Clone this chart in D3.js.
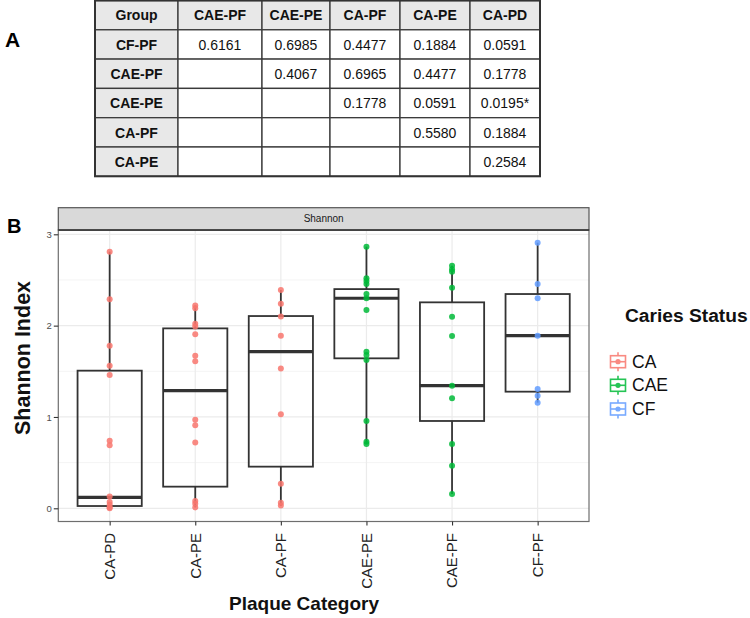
<!DOCTYPE html>
<html>
<head>
<meta charset="utf-8">
<script src="https://cdn.jsdelivr.net/npm/d3@7"></script>
<style>
  html, body { margin: 0; padding: 0; background: #fff; }
  svg { display: block; font-family: "Liberation Sans", Arial, Helvetica, sans-serif; }
</style>
</head>
<body>
<svg id="chart" width="750" height="618"></svg>
<script>
// ---------- Panel A: table data ----------
const tableHeader = ["Group", "CAE-PF", "CAE-PE", "CA-PF", "CA-PE", "CA-PD"];
const tableRows = ["CF-PF", "CAE-PF", "CAE-PE", "CA-PF", "CA-PE"];
const tableValues = [
  ["0.6161", "0.6985", "0.4477", "0.1884", "0.0591"],
  ["", "0.4067", "0.6965", "0.4477", "0.1778"],
  ["", "", "0.1778", "0.0591", "0.0195*"],
  ["", "", "", "0.5580", "0.1884"],
  ["", "", "", "", "0.2584"]
];

// ---------- Panel B: boxplot data ----------
const categories = ["CA-PD", "CA-PE", "CA-PF", "CAE-PE", "CAE-PF", "CF-PF"];
const cariesStatus = ["CA", "CA", "CA", "CAE", "CAE", "CF"];
const statusLevels = ["CA", "CAE", "CF"];
const statusColors = ["#F8766D", "#00BA38", "#619CFF"];
const whiskerLow  = [0.00, 0.01, 0.025, 0.704, 0.157, 1.157];
const q1          = [0.025, 0.237, 0.456, 1.642, 0.956, 1.277];
const medians     = [0.12, 1.288, 1.715, 2.30, 1.343, 1.89];
const q3          = [1.507, 1.97, 2.105, 2.40, 2.255, 2.346];
const whiskerHigh = [2.81, 2.22, 2.39, 2.864, 2.657, 2.908];
const pointsCAPD  = [2.81, 2.29, 1.78, 1.56, 1.46, 0.74, 0.69, 0.13, 0.07, 0.04, 0.01, 0.0];
const pointsCAPE  = [2.22, 2.19, 2.02, 1.99, 1.905, 1.67, 1.61, 0.97, 0.91, 0.72, 0.08, 0.05, 0.01];
const pointsCAPF  = [2.39, 2.24, 2.10, 1.89, 1.53, 1.03, 0.27, 0.06, 0.03];
const pointsCAEPE = [2.864, 2.518, 2.489, 2.456, 2.346, 2.299, 2.171, 1.715, 1.679, 1.624, 0.956, 0.729, 0.704];
const pointsCAEPF = [2.657, 2.617, 2.591, 2.416, 2.098, 1.887, 1.343, 1.204, 0.704, 0.466, 0.157];
const pointsCFPF  = [2.908, 2.456, 2.299, 1.89, 1.306, 1.233, 1.157];
const yTicks = [0, 1, 2, 3];
const yMinor = [0.5, 1.5, 2.5];

const svg = d3.select("#chart");

// ================= Panel A =================
const colEdges = [95, 178, 262, 330, 400, 470, 540];
const tTop = 0.5, rowH = 29.3;
const nRows = tableRows.length + 1;
const gA = svg.append("g");
gA.append("text").attr("x", 5).attr("y", 47).attr("font-size", 21).attr("font-weight", "bold").text("A");

for (let r = 0; r < nRows; r++) {
  for (let c = 0; c < tableHeader.length; c++) {
    const shaded = (r === 0 || c === 0);
    gA.append("rect")
      .attr("x", colEdges[c]).attr("y", tTop + r * rowH)
      .attr("width", colEdges[c + 1] - colEdges[c]).attr("height", rowH)
      .attr("fill", shaded ? "#e8e8e8" : "#ffffff")
      .attr("stroke", "#3a3a3a").attr("stroke-width", 1.3);
    let txt, bold = false;
    if (r === 0) { txt = tableHeader[c]; bold = true; }
    else if (c === 0) { txt = tableRows[r - 1]; bold = true; }
    else txt = tableValues[r - 1][c - 1];
    if (txt) {
      gA.append("text")
        .attr("x", (colEdges[c] + colEdges[c + 1]) / 2)
        .attr("y", tTop + r * rowH + rowH / 2 + 5.2)
        .attr("text-anchor", "middle")
        .attr("font-size", 14)
        .attr("font-weight", bold ? "bold" : "normal")
        .attr("fill", "#111")
        .text(txt);
    }
  }
}
gA.append("rect").attr("x", colEdges[0]).attr("y", tTop)
  .attr("width", colEdges[colEdges.length - 1] - colEdges[0]).attr("height", nRows * rowH)
  .attr("fill", "none").attr("stroke", "#333").attr("stroke-width", 2);

// ================= Panel B =================
const pL = 58.3, pR = 589, pT = 230, pB = 521.5, stripT = 207.7;
const x = d3.scalePoint().domain(categories).range([pL, pR]).padding(0.6);
const y = d3.scaleLinear().domain([0, 3]).range([508.3, 234.3]);
const color = d3.scaleOrdinal().domain(statusLevels).range(statusColors);
const step = x.step();
const boxW = step * 0.75;

svg.append("text").attr("x", 7).attr("y", 233).attr("font-size", 20).attr("font-weight", "bold").text("B");

svg.append("rect").attr("x", pL).attr("y", pT).attr("width", pR - pL).attr("height", pB - pT).attr("fill", "#fff");

const grid = svg.append("g");
grid.selectAll(".minor").data(yMinor).enter().append("line")
  .attr("x1", pL).attr("x2", pR).attr("y1", d => y(d)).attr("y2", d => y(d))
  .attr("stroke", "#f4f4f4").attr("stroke-width", 1);
grid.selectAll(".major").data(yTicks).enter().append("line")
  .attr("x1", pL).attr("x2", pR).attr("y1", d => y(d)).attr("y2", d => y(d))
  .attr("stroke", "#ebebeb").attr("stroke-width", 1.2);
grid.selectAll(".vmajor").data(categories).enter().append("line")
  .attr("x1", d => x(d)).attr("x2", d => x(d)).attr("y1", pT).attr("y2", pB)
  .attr("stroke", "#ebebeb").attr("stroke-width", 1.2);

const boxes = svg.append("g");
categories.forEach((cat, i) => {
  const cx = x(cat);
  const g = boxes.append("g");
  g.append("line").attr("x1", cx).attr("x2", cx).attr("y1", y(q3[i])).attr("y2", y(whiskerHigh[i]))
    .attr("stroke", "#333").attr("stroke-width", 1.8);
  g.append("line").attr("x1", cx).attr("x2", cx).attr("y1", y(q1[i])).attr("y2", y(whiskerLow[i]))
    .attr("stroke", "#333").attr("stroke-width", 1.8);
  g.append("rect").attr("x", cx - boxW / 2).attr("y", y(q3[i]))
    .attr("width", boxW).attr("height", y(q1[i]) - y(q3[i]))
    .attr("fill", "none").attr("stroke", "#333").attr("stroke-width", 1.8);
  g.append("line").attr("x1", cx - boxW / 2).attr("x2", cx + boxW / 2)
    .attr("y1", y(medians[i])).attr("y2", y(medians[i]))
    .attr("stroke", "#333").attr("stroke-width", 3.2);
});

const pointSets = [pointsCAPD, pointsCAPE, pointsCAPF, pointsCAEPE, pointsCAEPF, pointsCFPF];
const pts = svg.append("g");
categories.forEach((cat, i) => {
  pts.selectAll(null).data(pointSets[i]).enter().append("circle")
    .attr("cx", x(cat)).attr("cy", d => y(d)).attr("r", 3)
    .attr("fill", color(cariesStatus[i])).attr("fill-opacity", 0.85);
});

svg.append("rect").attr("x", pL).attr("y", pT).attr("width", pR - pL).attr("height", pB - pT)
  .attr("fill", "none").attr("stroke", "#6e6e6e").attr("stroke-width", 1.2);

svg.append("rect").attr("x", pL).attr("y", stripT).attr("width", pR - pL).attr("height", pT - stripT)
  .attr("fill", "#d9d9d9").attr("stroke", "#555").attr("stroke-width", 1.2);
svg.append("line").attr("x1", pL).attr("x2", pR).attr("y1", pT).attr("y2", pT).attr("stroke", "#333").attr("stroke-width", 1.6);
svg.append("text").attr("x", (pL + pR) / 2).attr("y", (stripT + pT) / 2 + 3.5)
  .attr("text-anchor", "middle").attr("font-size", 10).attr("fill", "#1a1a1a").text("Shannon");

const yAxis = svg.append("g").attr("transform", `translate(${pL},0)`)
  .call(d3.axisLeft(y).tickValues(yTicks).tickSize(4.5).tickPadding(2).tickFormat(d3.format("d")));
yAxis.select(".domain").remove();
yAxis.selectAll(".tick line").attr("stroke", "#333").attr("stroke-width", 1.1);
yAxis.selectAll(".tick text").attr("font-size", 9.5).attr("fill", "#4d4d4d").attr("font-family", "Liberation Sans, Arial, sans-serif");

const xAxis = svg.append("g").attr("transform", `translate(0,${pB})`)
  .call(d3.axisBottom(x).tickSize(4).tickFormat(() => ""));
xAxis.select(".domain").remove();
xAxis.selectAll(".tick line").attr("stroke", "#333").attr("stroke-width", 1.1);
svg.append("g").selectAll("text").data(categories).enter().append("text")
  .attr("transform", d => `translate(${x(d)},533) rotate(-90)`)
  .attr("text-anchor", "end").attr("dy", "0.36em")
  .attr("font-size", 15).attr("fill", "#222").text(d => d);

svg.append("text").attr("x", 304).attr("y", 610).attr("text-anchor", "middle")
  .attr("font-size", 19).attr("font-weight", "bold").attr("fill", "#111").text("Plaque Category");
svg.append("text").attr("transform", "translate(29.5,358) rotate(-90)").attr("text-anchor", "middle")
  .attr("font-size", 21.5).attr("font-weight", "bold").attr("fill", "#111").text("Shannon Index");

const leg = svg.append("g");
leg.append("text").attr("x", 625).attr("y", 322).attr("font-size", 19.2).attr("font-weight", "bold")
  .attr("fill", "#111").text("Caries Status");
const rowCY = [361.7, 385.3, 409];
statusLevels.forEach((s, i) => {
  const cy = rowCY[i], kx = 618, c = color(s);
  const g = leg.append("g").attr("opacity", 0.85);
  g.append("line").attr("x1", kx).attr("x2", kx).attr("y1", cy - 9.5).attr("y2", cy + 9.5).attr("stroke", c).attr("stroke-width", 1.6);
  g.append("rect").attr("x", kx - 7.5).attr("y", cy - 6).attr("width", 15).attr("height", 12)
    .attr("fill", "#fff").attr("stroke", c).attr("stroke-width", 1.6);
  g.append("line").attr("x1", kx - 7.5).attr("x2", kx + 7.5).attr("y1", cy).attr("y2", cy).attr("stroke", c).attr("stroke-width", 1.6);
  g.append("circle").attr("cx", kx).attr("cy", cy).attr("r", 2.6).attr("fill", c);
  leg.append("text").attr("x", 632).attr("y", cy + 6).attr("font-size", 17.5).attr("fill", "#111").text(s);
});
</script>
</body>
</html>
